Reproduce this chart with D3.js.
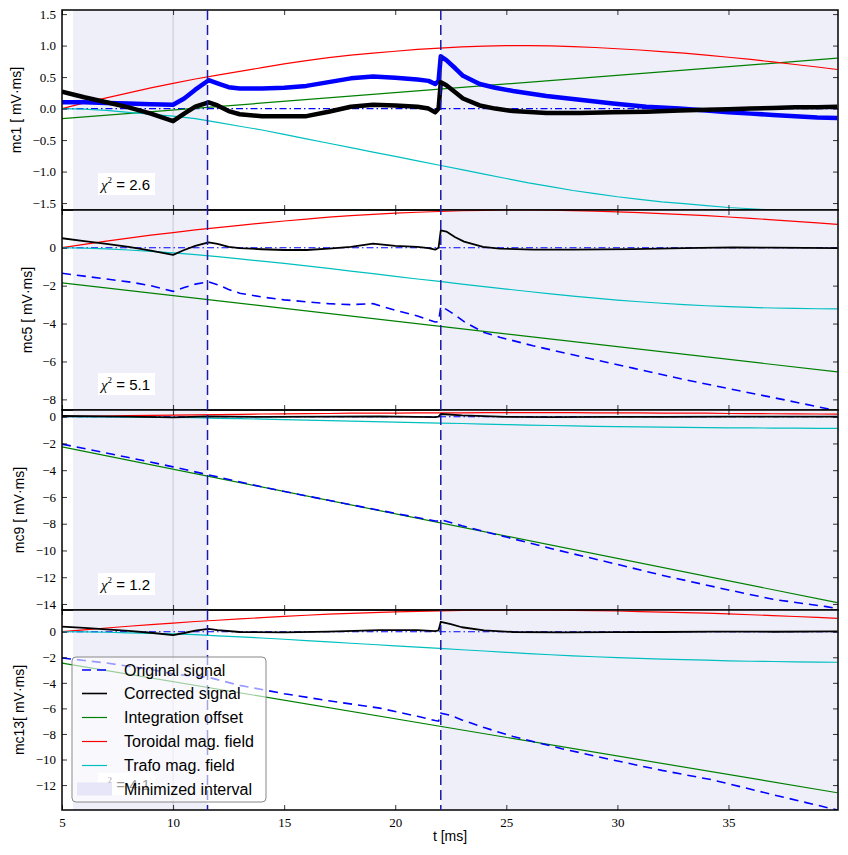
<!DOCTYPE html>
<html><head><meta charset="utf-8">
<script src="https://cdn.jsdelivr.net/npm/d3@7/dist/d3.min.js"></script>
<style>
body{margin:0;background:#fff;}
svg{display:block;}
</style></head>
<body>
<script>
// ---------- DATA ----------
const tGrid = [5,6,7,8,9,10,11,12,13,14,15,16,17,18,19,20,21,22,23,24,25,26,27,28,29,30,31,32,33,34,35,36,37,38,39,39.9];
const red1 = [0,0.09,0.17,0.25,0.33,0.40,0.47,0.53,0.59,0.65,0.71,0.76,0.81,0.85,0.88,0.91,0.94,0.96,0.98,0.99,1.0,1.0,0.995,0.985,0.97,0.95,0.93,0.905,0.88,0.85,0.815,0.78,0.74,0.70,0.66,0.62];
const cyan1 = [0,-0.01,-0.03,-0.06,-0.09,-0.12,-0.16,-0.22,-0.28,-0.34,-0.41,-0.48,-0.55,-0.62,-0.69,-0.76,-0.83,-0.90,-0.97,-1.04,-1.11,-1.18,-1.24,-1.30,-1.35,-1.40,-1.44,-1.48,-1.51,-1.54,-1.57,-1.59,-1.61,-1.63,-1.64,-1.65];
const red2 = [0,0.18,0.35,0.51,0.66,0.80,0.94,1.06,1.18,1.30,1.41,1.51,1.61,1.69,1.76,1.82,1.87,1.91,1.95,1.97,1.99,1.99,1.98,1.96,1.93,1.89,1.85,1.80,1.75,1.69,1.62,1.55,1.47,1.39,1.31,1.23];
const cyan2 = [0,-0.02,-0.06,-0.12,-0.19,-0.27,-0.36,-0.47,-0.59,-0.71,-0.83,-0.96,-1.09,-1.23,-1.37,-1.51,-1.65,-1.78,-1.92,-2.05,-2.18,-2.31,-2.43,-2.55,-2.66,-2.76,-2.85,-2.93,-3.00,-3.06,-3.11,-3.15,-3.18,-3.20,-3.22,-3.23];
const red3 = [0,0.03,0.05,0.08,0.10,0.12,0.14,0.16,0.18,0.20,0.21,0.23,0.24,0.26,0.26,0.27,0.28,0.29,0.29,0.30,0.30,0.30,0.30,0.30,0.29,0.29,0.28,0.27,0.26,0.26,0.24,0.23,0.22,0.21,0.20,0.19];
const cyan3 = [0,-0.01,-0.02,-0.03,-0.05,-0.06,-0.08,-0.12,-0.15,-0.18,-0.22,-0.25,-0.29,-0.33,-0.37,-0.40,-0.44,-0.48,-0.51,-0.55,-0.59,-0.63,-0.66,-0.69,-0.72,-0.74,-0.76,-0.78,-0.80,-0.82,-0.83,-0.84,-0.85,-0.86,-0.87,-0.87];
const red4 = [0,0.15,0.29,0.43,0.56,0.68,0.80,0.90,1.00,1.10,1.20,1.29,1.37,1.44,1.50,1.55,1.59,1.63,1.66,1.68,1.69,1.69,1.69,1.67,1.65,1.62,1.58,1.54,1.50,1.45,1.39,1.33,1.26,1.19,1.12,1.05];
const cyan4 = [0,-0.01,-0.04,-0.09,-0.13,-0.17,-0.23,-0.32,-0.41,-0.49,-0.59,-0.70,-0.80,-0.90,-1.00,-1.10,-1.20,-1.31,-1.41,-1.51,-1.61,-1.71,-1.80,-1.89,-1.96,-2.03,-2.09,-2.15,-2.19,-2.23,-2.28,-2.31,-2.33,-2.36,-2.38,-2.39];

const greenT = [5, 39.9];
const green1 = [-0.16, 0.80];
const green2 = [-1.85, -6.55];
const green3 = [-2.25, -13.9];
const green4 = [-2.45, -12.6];

const sigT1 = [5,6,7,8,9,10,10.5,11,11.6,12,12.5,13,14,15,16,17,18,19,20,21,21.5,21.8,21.95,22.05,22.3,22.7,23.05,23.8,24.5,25.3,26.8,28.3,29.8,31.3,32.8,34,35,36,37,38,39,39.9];
const orig1 = [0.10,0.10,0.09,0.08,0.07,0.06,0.16,0.30,0.45,0.40,0.34,0.32,0.32,0.33,0.36,0.42,0.48,0.51,0.49,0.46,0.44,0.39,0.44,0.83,0.77,0.64,0.52,0.39,0.33,0.28,0.20,0.14,0.08,0.03,0.00,-0.03,-0.06,-0.08,-0.10,-0.12,-0.14,-0.15];
const corr1 = [0.27,0.18,0.10,0.02,-0.08,-0.20,-0.08,0.03,0.10,0.05,-0.04,-0.09,-0.12,-0.12,-0.12,-0.05,0.03,0.06,0.05,0.03,0.0,-0.06,0.0,0.42,0.37,0.26,0.16,0.05,0.0,-0.04,-0.07,-0.07,-0.06,-0.05,-0.03,-0.02,-0.01,0.0,0.01,0.02,0.02,0.03];

const sigT2 = [5,6,7,8,9,10,10.5,11,11.6,12,12.5,13,14,15,16,17,18,19,20,21,21.5,21.8,21.95,22.05,22.3,22.7,23.1,23.95,24.7,26.2,28,30.7,33,35.2,37,39.9];
const orig2 = [-1.35,-1.50,-1.65,-1.80,-2.0,-2.30,-2.10,-1.92,-1.80,-1.95,-2.20,-2.40,-2.60,-2.75,-2.85,-2.95,-3.00,-2.95,-3.30,-3.60,-3.80,-3.92,-3.90,-3.10,-3.25,-3.55,-3.90,-4.45,-4.72,-5.17,-5.65,-6.35,-6.95,-7.48,-7.90,-8.60];
const corr2 = [0.50,0.35,0.20,0.05,-0.15,-0.38,-0.12,0.10,0.28,0.20,0.05,-0.02,-0.08,-0.12,-0.12,-0.05,0.05,0.22,0.10,0.05,-0.02,-0.10,0.0,0.92,0.85,0.55,0.32,0.05,-0.05,-0.10,-0.10,-0.07,-0.02,0.02,0.0,-0.02];

const sigT3 = [5,8,10,11.6,14,17,19.3,21.8,21.95,22.05,23,25,27,29.8,32,35,37,39.4,39.9];
const orig3 = [-2.05,-3.05,-3.75,-4.35,-5.25,-6.25,-7.0,-7.8,-7.8,-7.7,-8.15,-9.0,-9.85,-10.96,-11.85,-12.95,-13.65,-14.2,-14.35];
const corr3 = [0.05,0.0,-0.05,0.03,-0.02,0.0,0.03,-0.03,0.0,0.2,0.1,-0.02,-0.03,-0.02,-0.01,0.0,0.0,0.0,0.0];

const sigT4 = [5,6,7,8,9,10,10.5,11,11.6,12,13,15,17,19.3,21,21.8,21.95,22.05,22.5,23,24,25.3,27.5,29.8,32,34.3,37,39.9];
const orig4 = [-2.05,-2.25,-2.45,-2.70,-2.95,-3.30,-3.40,-3.48,-3.57,-3.75,-4.20,-4.85,-5.40,-5.98,-6.62,-6.95,-7.0,-6.38,-6.55,-6.90,-7.50,-8.20,-9.15,-10.04,-10.85,-11.60,-12.75,-13.95];
const corr4 = [0.40,0.30,0.18,0.06,-0.08,-0.26,-0.10,0.08,0.22,0.12,-0.02,-0.05,0.0,0.12,0.12,0.05,0.10,0.78,0.60,0.35,0.10,-0.02,-0.05,-0.03,-0.02,0.0,0.0,0.02];

const panelLabels = ["mc1 [ mV·ms]", "mc5 [ mV·ms]", "mc9 [ mV·ms]", "mc13[ mV·ms]"];
const chiValues = ["2.6", "5.1", "1.2", "4.1"];
const yTicks1 = [-1.5,-1.0,-0.5,0,0.5,1.0,1.5];
const yTicks2 = [-8,-6,-4,-2,0];
const yTicks3 = [-14,-12,-10,-8,-6,-4,-2,0];
const yTicks4 = [-12,-10,-8,-6,-4,-2,0];
const xTicks = [5,10,15,20,25,30,35];
const intervals = [[5.5, 11.55], [22.05, 39.93]];
const markerLines = [11.55, 22.05];
const grayLine = 10;
const legendItems = ["Original signal","Corrected signal","Integration offset","Toroidal mag. field","Trafo mag. field","Minimized interval"];

// ---------- LAYOUT ----------
const W = 848, H = 855;
const L = 62, R = 838;
const panelTops = [10, 210, 410, 610];
const panelH = 200;
const yDomains = [[-1.61, 1.565], [-8.56, 1.99], [-14.45, 0.5], [-13.95, 1.7]];
const labelXs = [16, 27, 19, 19];

const svg = d3.select("body").append("svg").attr("width", W).attr("height", H);
const x = d3.scaleLinear().domain([5, 39.93]).range([L, R]);

const C = {blue:"#0000ff", black:"#000000", green:"#008000", red:"#ff0000", cyan:"#00bfbf", shade:"#efeffa", vline:"#1a1aaa"};
const serif = "'Liberation Serif', 'DejaVu Serif', serif";
const sans = "'Liberation Sans', Arial, sans-serif";

const panels = [
  {yt:yTicks1, red:red1, cyan:cyan1, green:green1, sT:sigT1, orig:orig1, corr:corr1, fmt:d3.format(".1f"), thick:true},
  {yt:yTicks2, red:red2, cyan:cyan2, green:green2, sT:sigT2, orig:orig2, corr:corr2, fmt:d3.format("d"), thick:false},
  {yt:yTicks3, red:red3, cyan:cyan3, green:green3, sT:sigT3, orig:orig3, corr:corr3, fmt:d3.format("d"), thick:false},
  {yt:yTicks4, red:red4, cyan:cyan4, green:green4, sT:sigT4, orig:orig4, corr:corr4, fmt:d3.format("d"), thick:false}
];

const defs = svg.append("defs");
const fmtMinus = f => v => f(v).replace("-", "\u2212");

panels.forEach((p, i) => {
  const top = panelTops[i], bot = top + panelH;
  const y = d3.scaleLinear().domain(yDomains[i]).range([bot, top]);
  defs.append("clipPath").attr("id", "clip" + i)
    .append("rect").attr("x", L).attr("y", top).attr("width", R - L).attr("height", panelH);
  const g = svg.append("g");
  const cg = g.append("g").attr("clip-path", `url(#clip${i})`);

  // shaded minimized intervals
  intervals.forEach(iv => {
    cg.append("rect").attr("x", x(iv[0])).attr("y", top).attr("width", x(iv[1]) - x(iv[0])).attr("height", panelH)
      .attr("fill", C.shade);
  });
  // gray vertical line
  cg.append("line").attr("x1", x(grayLine)).attr("x2", x(grayLine)).attr("y1", top).attr("y2", bot)
    .attr("stroke", "#c8c8d6").attr("stroke-width", 1);

  const lineXY = (ts, vs) => d3.line().x((d, k) => x(ts[k])).y(d => y(d))(vs);

  // zero reference (dash-dot)
  cg.append("path").attr("d", lineXY(greenT, [0, 0])).attr("fill", "none")
    .attr("stroke", C.blue).attr("stroke-width", 1.1).attr("stroke-dasharray", "7,3,1.5,3");

  cg.append("path").attr("d", lineXY(greenT, p.green)).attr("fill", "none").attr("stroke", C.green).attr("stroke-width", 1.2);
  cg.append("path").attr("d", lineXY(tGrid, p.red)).attr("fill", "none").attr("stroke", C.red).attr("stroke-width", 1.2);
  cg.append("path").attr("d", lineXY(tGrid, p.cyan)).attr("fill", "none").attr("stroke", C.cyan).attr("stroke-width", 1.2);

  const o = cg.append("path").attr("d", lineXY(p.sT, p.orig)).attr("fill", "none").attr("stroke", C.blue);
  if (p.thick) o.attr("stroke-width", 4.5).attr("stroke-linejoin", "round");
  else o.attr("stroke-width", 1.6).attr("stroke-dasharray", "9,6");
  cg.append("path").attr("d", lineXY(p.sT, p.corr)).attr("fill", "none").attr("stroke", C.black)
    .attr("stroke-width", p.thick ? 4.5 : 1.8).attr("stroke-linejoin", "round");

  // chi^2 label
  const chiG = g.append("g");
  chiG.append("rect").attr("x", 98).attr("y", bot - 37).attr("width", 57).attr("height", 22).attr("fill", "#fff");
  const ct = chiG.append("text").attr("x", 101).attr("y", bot - 20).attr("font-size", 15).attr("fill", "#000");
  ct.append("tspan").attr("font-family", serif).attr("font-style", "italic").text("\u03c7");
  ct.append("tspan").attr("font-family", serif).attr("font-size", 9).attr("dy", -7).text("2");
  ct.append("tspan").attr("font-family", sans).attr("dy", 7).text(" = " + chiValues[i]);

  // axes
  const styleAxis = a => {
    a.select(".domain").remove();
    a.selectAll(".tick line").attr("stroke", "#000").attr("stroke-width", 0.8);
    a.selectAll(".tick text").attr("font-family", serif).attr("font-size", 13).attr("fill", "#000");
  };
  g.append("g").attr("transform", `translate(${L},0)`)
    .call(d3.axisLeft(y).tickValues(p.yt).tickSize(-5).tickPadding(6).tickFormat(fmtMinus(p.fmt))).call(styleAxis);
  g.append("g").attr("transform", `translate(${R},0)`)
    .call(d3.axisRight(y).tickValues(p.yt).tickSize(-5).tickFormat("")).call(styleAxis);
  g.append("g").attr("transform", `translate(0,${top})`)
    .call(d3.axisTop(x).tickValues(xTicks).tickSize(-5).tickFormat("")).call(styleAxis);
  const bx = g.append("g").attr("transform", `translate(0,${bot})`)
    .call(d3.axisBottom(x).tickValues(xTicks).tickSize(-5).tickPadding(8).tickFormat(i === 3 ? d3.format("d") : ""));
  styleAxis(bx);

  // frame
  g.append("rect").attr("x", L).attr("y", top).attr("width", R - L).attr("height", panelH)
    .attr("fill", "none").attr("stroke", "#000").attr("stroke-width", 1.5);

  // y label
  g.append("text").attr("transform", `translate(${labelXs[i]},${top + panelH / 2}) rotate(-90)`)
    .attr("text-anchor", "middle").attr("dominant-baseline", "central")
    .attr("font-family", sans).attr("font-size", 14).text(panelLabels[i]);
});

// vertical dashed marker lines across all panels
markerLines.forEach(t => {
  svg.append("line").attr("x1", x(t)).attr("x2", x(t)).attr("y1", panelTops[0]).attr("y2", panelTops[3] + panelH)
    .attr("stroke", C.vline).attr("stroke-width", 1.5).attr("stroke-dasharray", "10,5");
});

// x label
svg.append("text").attr("x", 450).attr("y", 841).attr("text-anchor", "middle")
  .attr("font-family", sans).attr("font-size", 14).text("t [ms]");

// legend
const lg = svg.append("g");
lg.append("rect").attr("x", 72).attr("y", 657).attr("width", 194).attr("height", 145).attr("rx", 4)
  .attr("fill", "#fff").attr("fill-opacity", 0.6).attr("stroke", "#888").attr("stroke-width", 1);
const rowY = [670, 693.5, 717.5, 741.5, 765.5, 789.5];
const legStyles = [
  {c:C.blue, dash:"9,6", w:1.6},
  {c:C.black, w:1.6},
  {c:C.green, w:1.2},
  {c:C.red, w:1.2},
  {c:C.cyan, w:1.2}
];
legendItems.forEach((name, k) => {
  if (k < 5) {
    const s = legStyles[k];
    const l = lg.append("line").attr("x1", 82).attr("x2", 107).attr("y1", rowY[k]).attr("y2", rowY[k])
      .attr("stroke", s.c).attr("stroke-width", s.w);
    if (s.dash) l.attr("stroke-dasharray", s.dash);
  } else {
    lg.append("rect").attr("x", 77).attr("y", rowY[k] - 7).attr("width", 35).attr("height", 13).attr("fill", "#e6e6f8");
  }
  lg.append("text").attr("x", 124).attr("y", rowY[k]).attr("dominant-baseline", "central")
    .attr("font-family", sans).attr("font-size", 16).text(name);
});
</script>
</body></html>
